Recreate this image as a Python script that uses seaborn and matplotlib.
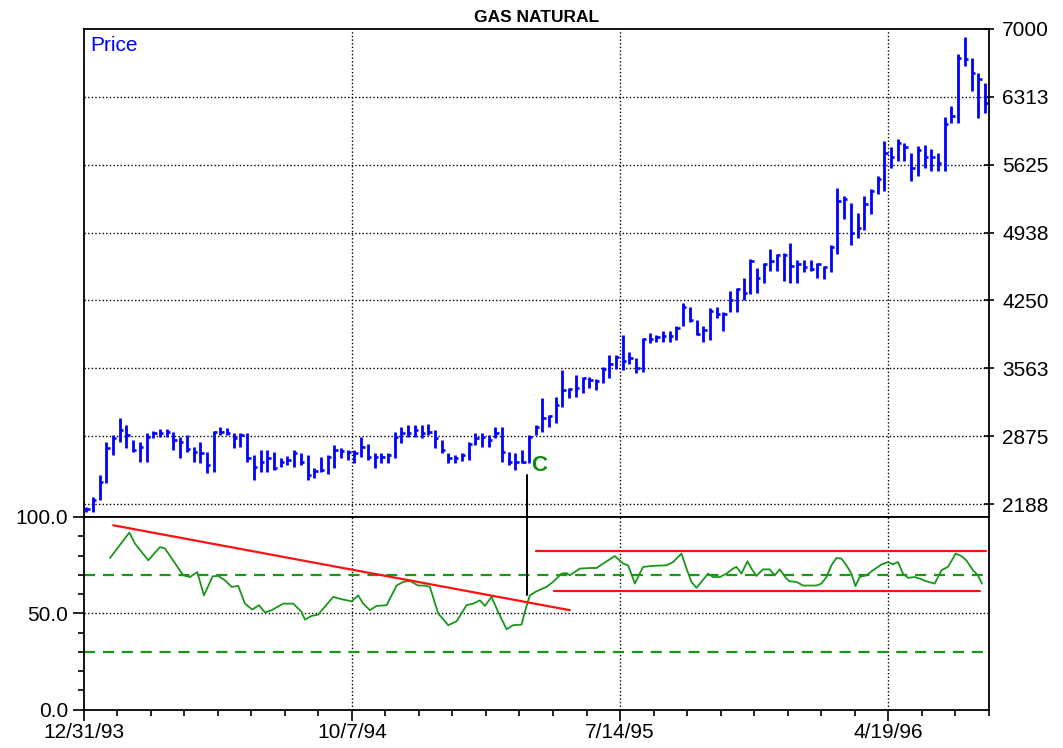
import numpy as np
import pandas as pd
import matplotlib
matplotlib.use("Agg")
import matplotlib.pyplot as plt
from matplotlib.ticker import FixedLocator, FixedFormatter, MultipleLocator
import seaborn as sns

# ---------------- data ----------------
title = "GAS NATURAL"
price_label = "Price"

# weekly bars (High, Low, Close), one per week starting 12/31/93
bar_high = [2160, 2260, 2480, 2815, 2885, 3060, 2990, 2835, 2815, 2905,
            2925, 2945, 2945, 2915, 2865, 2885, 2765, 2815, 2715, 2925,
            2965, 2955, 2905, 2905, 2905, 2685, 2735, 2735, 2715, 2650,
            2670, 2735, 2700, 2685, 2550, 2665, 2685, 2785, 2755, 2735,
            2735, 2865, 2800, 2700, 2705, 2705, 2915, 2965, 2985, 2985,
            2985, 3000, 2935, 2835, 2705, 2685, 2705, 2815, 2905, 2905,
            2885, 2965, 2965, 2715, 2705, 2735, 2885, 2985, 3260, 3090,
            3270, 3545, 3360, 3490, 3470, 3470, 3450, 3575, 3700, 3700,
            3900, 3725, 3670, 3865, 3925, 3895, 3945, 3945, 3995, 4220,
            4180, 4050, 3995, 4170, 4180, 4130, 4350, 4380, 4480, 4670,
            4580, 4630, 4775, 4725, 4735, 4830, 4655, 4655, 4655, 4625,
            4600, 4810, 5390, 5310, 5240, 5140, 5310, 5380, 5510, 5870,
            5800, 5890, 5850, 5745, 5810, 5825, 5780, 5745, 6110, 6220,
            6750, 6920, 6710, 6555, 6455]
bar_low = [2110, 2110, 2230, 2400, 2685, 2815, 2755, 2715, 2610, 2610,
           2855, 2865, 2865, 2735, 2650, 2715, 2610, 2600, 2500, 2510,
           2885, 2885, 2755, 2765, 2610, 2430, 2510, 2510, 2530, 2560,
           2580, 2560, 2580, 2430, 2450, 2510, 2490, 2550, 2650, 2630,
           2600, 2665, 2630, 2550, 2600, 2600, 2655, 2805, 2865, 2865,
           2855, 2885, 2755, 2700, 2600, 2600, 2620, 2630, 2785, 2765,
           2765, 2855, 2610, 2580, 2530, 2600, 2600, 2885, 2915, 2965,
           3005, 3170, 3260, 3270, 3310, 3360, 3340, 3410, 3460, 3560,
           3545, 3610, 3510, 3520, 3815, 3825, 3825, 3825, 3845, 3995,
           4030, 3895, 3825, 3845, 4070, 3945, 4130, 4130, 4250, 4320,
           4330, 4430, 4550, 4550, 4450, 4430, 4430, 4535, 4550, 4480,
           4470, 4535, 4725, 5080, 4810, 4885, 4960, 5130, 5330, 5360,
           5595, 5665, 5665, 5465, 5515, 5595, 5565, 5565, 5565, 6050,
           6050, 6625, 6375, 6100, 6150]
bar_close = [2140, 2230, 2410, 2755, 2855, 2935, 2885, 2735, 2765, 2865,
             2905, 2905, 2915, 2835, 2815, 2745, 2715, 2705, 2580, 2915,
             2915, 2905, 2855, 2885, 2655, 2560, 2610, 2655, 2550, 2610,
             2630, 2705, 2610, 2480, 2520, 2530, 2665, 2735, 2725, 2715,
             2705, 2765, 2665, 2665, 2665, 2685, 2865, 2905, 2905, 2935,
             2905, 2915, 2855, 2735, 2650, 2650, 2685, 2800, 2855, 2865,
             2835, 2905, 2715, 2610, 2610, 2610, 2865, 2965, 3060, 3080,
             3190, 3340, 3350, 3360, 3460, 3440, 3430, 3560, 3610, 3680,
             3640, 3670, 3565, 3855, 3855, 3875, 3890, 3890, 3975, 4180,
             4050, 3905, 3955, 4140, 4110, 4110, 4250, 4370, 4330, 4650,
             4480, 4620, 4650, 4710, 4715, 4600, 4620, 4585, 4565, 4615,
             4590, 4790, 5260, 5280, 4930, 4980, 5230, 5360, 5480, 5740,
             5700, 5840, 5800, 5595, 5770, 5700, 5700, 5645, 6040, 6120,
             6710, 6700, 6555, 6495, 6250]

# oscillator (weeks since 12/31/93, value)
osc_week = [3.95, 6.83, 7.67, 9.66, 11.40, 12.15, 14.87, 15.87, 16.96, 17.96,
            19.25, 20.09, 21.09, 22.09, 23.07, 24.07, 25.16, 26.16, 27.05, 28.05,
            29.78, 31.27, 32.52, 33.01, 34.01, 34.99, 37.23, 38.48, 39.97, 40.95,
            41.70, 42.70, 43.70, 45.19, 46.68, 47.66, 48.66, 49.90, 50.89, 51.64,
            52.88, 54.37, 55.62, 57.11, 58.09, 59.09, 59.84, 60.83, 61.82, 63.07,
            64.05, 65.31, 65.80, 66.54, 67.54, 69.03, 70.01, 71.27, 72.01, 72.50,
            73.99, 75.48, 76.48, 77.47, 79.21, 80.45, 81.19, 81.94, 82.19, 82.94,
            83.43, 84.92, 86.92, 87.90, 89.15, 89.90, 90.64, 91.39, 92.13, 93.11,
            93.86, 94.86, 95.86, 96.84, 97.35, 98.09, 98.99, 99.58, 100.33, 101.31,
            102.31, 103.05, 103.80, 104.80, 105.29, 106.29, 107.27, 108.27, 109.27, 110.01,
            110.76, 111.51, 112.25, 113.00, 113.74, 114.49, 115.08, 115.72, 116.72, 117.70,
            118.96, 119.94, 120.69, 121.43, 122.18, 122.92, 123.92, 124.66, 125.66, 126.90,
            127.90, 128.88, 129.38, 130.02, 130.88, 131.62, 132.61, 133.35, 133.95]
osc_value = [78.7, 91.9, 86.2, 77.5, 84.4, 83.6, 69.7, 68.8, 71.4, 59.3,
             69.2, 69.4, 67.1, 63.7, 64.2, 55.0, 51.9, 54.2, 50.4, 51.6,
             55.0, 55.0, 50.7, 46.7, 48.6, 49.3, 58.5, 57.3, 56.2, 59.3,
             55.0, 51.6, 53.8, 54.2, 64.4, 66.3, 66.8, 64.4, 64.4, 63.7,
             49.9, 43.8, 45.8, 54.2, 55.0, 56.7, 53.8, 58.5, 50.7, 41.7,
             43.8, 44.1, 50.7, 59.3, 61.4, 63.7, 66.3, 70.6, 70.9, 69.7,
             73.2, 73.5, 73.5, 75.8, 79.7, 75.8, 74.9, 68.0, 65.4, 70.6,
             74.1, 74.6, 74.9, 76.6, 81.0, 73.2, 66.3, 63.2, 66.3, 70.6,
             68.8, 68.8, 70.6, 73.2, 74.1, 70.6, 77.0, 73.2, 69.4, 72.8,
             72.8, 69.7, 72.8, 68.0, 66.6, 66.3, 64.4, 64.4, 64.4, 65.4,
             68.8, 74.9, 78.7, 78.4, 74.9, 70.6, 64.1, 68.8, 69.7, 72.3,
             75.3, 76.6, 75.4, 76.6, 70.6, 68.4, 68.8, 68.0, 66.6, 65.4,
             72.3, 74.1, 77.0, 81.0, 79.7, 77.5, 72.3, 69.7, 65.4]

# red trend lines: (week start, value start, week end, value end)
trend_down = [4.44, 95.7, 72.5, 51.6]
channel_top = [67.44, 82.2, 134.6, 82.2]
channel_bottom = [70.16, 61.4, 133.6, 61.4]

# reference levels
osc_levels = [70, 30]

# signal marker "C"
signal_week = 66.1
signal_price_top = 2480
signal_osc_bottom = 59.7
signal_label = "C"
signal_label_pos = [68.0, 2580]

# axes
x_tick_pos = [0, 40, 80, 120]
x_tick_labels = ["12/31/93", "10/7/94", "7/14/95", "4/19/96"]
price_ticks = [2187.5, 2875, 3562.5, 4250, 4937.5, 5625, 6312.5, 7000]
price_tick_labels = ["2188", "2875", "3563", "4250", "4938", "5625", "6313", "7000"]
osc_ticks = [0, 50, 100]
osc_tick_labels = ["0.0", "50.0", "100.0"]

# ---------------- style ----------------
sns.set_theme(style="white")
plt.rcParams["font.family"] = ["Liberation Sans", "DejaVu Sans"]
plt.rcParams["text.color"] = "black"
plt.rcParams["axes.titlecolor"] = "black"

BLUE = "#0000FF"
GREEN = "#1a961a"
RED = "#FF1010"
DOT = (0, (1, 1.6))
FS = 15

fig = plt.figure(figsize=(10.63, 7.48), dpi=100)
fig.patch.set_facecolor("white")
L, W = 83.5 / 1063, (989 - 83.5) / 1063
ax1 = fig.add_axes([L, (748 - 517) / 748, W, (517 - 29) / 748])
ax2 = fig.add_axes([L, (748 - 709.5) / 748, W, (709.5 - 517) / 748], sharex=ax1)

n = len(bar_close)
df = pd.DataFrame({"week": np.arange(n) + 0.4, "high": bar_high,
                   "low": bar_low, "close": bar_close})

# ---- price panel
ax1.vlines(df["week"], df["low"], df["high"], color=BLUE, lw=2.0)
ax1.hlines(df["close"], df["week"], df["week"] + 0.5, color=BLUE, lw=1.9)
ax1.set_ylim(2056, 7000)
ax1.set_xlim(0, 135)
ax1.yaxis.tick_right()
ax1.yaxis.set_major_locator(FixedLocator(price_ticks))
ax1.yaxis.set_major_formatter(FixedFormatter(price_tick_labels))
ax1.tick_params(axis="y", which="major", direction="inout", length=7, width=1.2,
                colors="black", labelsize=FS, pad=6, right=True, left=False)
ax1.tick_params(axis="x", which="both", bottom=False, labelbottom=False)
for p in price_ticks[:-1]:
    ax1.axhline(p, color="black", lw=1.0, ls=DOT, zorder=0)
for xt in x_tick_pos[1:]:
    ax1.axvline(xt, color="black", lw=1.0, ls=DOT, zorder=0)
ax1.set_title(title, fontsize=12.5, fontweight="bold", pad=5, color="black")
ax1.text(0.007, 0.985, price_label, transform=ax1.transAxes, color=BLUE,
         fontsize=FS, ha="left", va="top")
ax1.text(signal_label_pos[0], signal_label_pos[1], signal_label, color="#108a10",
         fontsize=16, fontweight="bold", ha="center", va="center")
ax1.plot([signal_week, signal_week], [signal_price_top, 2056], color="black", lw=1.4)

# ---- oscillator panel
osc = pd.DataFrame({"week": osc_week, "value": osc_value})
sns.lineplot(data=osc, x="week", y="value", ax=ax2, color=GREEN, lw=1.3,
             sort=False, estimator=None)
for lv in osc_levels:
    ax2.axhline(lv, color=GREEN, lw=1.6, ls=(0, (5, 3.5)), zorder=1)
ax2.axhline(50, color="black", lw=1.0, ls=DOT, zorder=0)
for xt in x_tick_pos[1:]:
    ax2.axvline(xt, color="black", lw=1.0, ls=DOT, zorder=0)
for seg in (trend_down, channel_top, channel_bottom):
    ax2.plot([seg[0], seg[2]], [seg[1], seg[3]], color=RED, lw=1.6)
ax2.plot([signal_week, signal_week], [100, signal_osc_bottom], color="black", lw=1.4)
ax2.set_ylim(0, 100)
ax2.set_xlim(0, 135)
ax2.yaxis.set_major_locator(FixedLocator(osc_ticks))
ax2.yaxis.set_major_formatter(FixedFormatter(osc_tick_labels))
ax2.yaxis.set_minor_locator(MultipleLocator(10))
ax2.xaxis.set_major_locator(FixedLocator(x_tick_pos))
ax2.xaxis.set_major_formatter(FixedFormatter(x_tick_labels))
ax2.xaxis.set_minor_locator(MultipleLocator(5))
ax2.tick_params(axis="both", which="major", direction="out", length=8, width=1.2,
                colors="black", labelsize=FS, left=True, bottom=True)
ax2.tick_params(axis="both", which="minor", direction="out", length=4, width=1.2,
                colors="black", left=True, bottom=True)
ax2.tick_params(axis="y", pad=3)
ax2.tick_params(axis="x", pad=2)
ax2.set_xlabel("")
ax2.set_ylabel("")

for ax in (ax1, ax2):
    ax.set_facecolor("white")
    for s in ax.spines.values():
        s.set_visible(True)
        s.set_color("black")
        s.set_linewidth(1.3)

fig.savefig("out.png", dpi=100, facecolor="white")
